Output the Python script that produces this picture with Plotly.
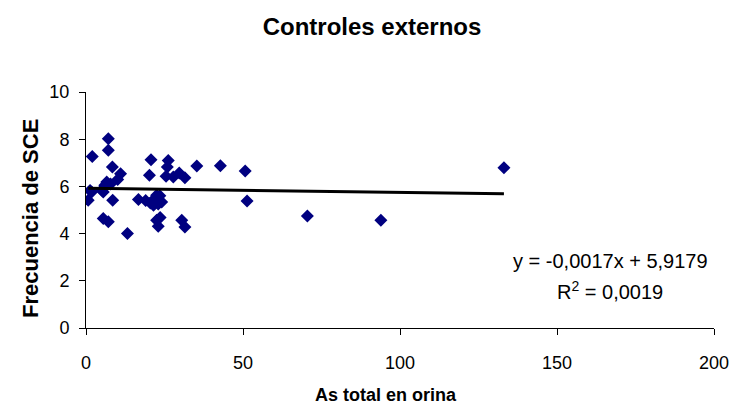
import plotly.graph_objects as go

x_vals = [0.7, 1.8, 2.0, 1.3, 5.5, 5.5, 6.0, 6.6, 7.1, 7.1, 7.1, 7.8, 8.4, 8.5, 10.1, 11.0,
          13.2, 16.7, 19.0, 20.2, 20.7, 20.5, 21.5, 22.0, 22.5, 23.0, 24.1, 22.5, 23.6, 23.0,
          25.5, 25.9, 26.2, 27.8, 29.7, 30.5, 31.5, 31.5, 35.3, 42.8, 50.7, 51.3, 70.5, 93.9,
          133.1, 23.5, 5.0]
y_vals = [5.41, 5.76, 7.27, 5.83, 5.76, 4.64, 6.05, 6.19, 8.02, 7.53, 4.50, 6.10, 6.82, 5.41, 6.29, 6.54,
          4.00, 5.45, 5.40, 6.47, 7.13, 5.30, 5.20, 5.50, 5.62, 5.25, 5.34, 4.57, 4.68, 4.31,
          6.43, 6.82, 7.10, 6.40, 6.57, 4.57, 6.37, 4.28, 6.86, 6.88, 6.65, 5.38, 4.75, 4.57,
          6.79, 5.60, 5.85]

slope = -0.0017
intercept = 5.9179
eq_text = "y = -0,0017x + 5,9179"
r2_text = "R<sup>2</sup> = 0,0019"

x_ticks = [0, 50, 100, 150, 200]
y_ticks = [0, 2, 4, 6, 8, 10]

trend_x = [min(x_vals), max(x_vals)]
trend_y = [slope * v + intercept for v in trend_x]

font_family = "Liberation Sans, Arial, sans-serif"

W, H = 734, 399
ML, MR, MT, MB = 78, 28, 84, 79
PW, PH = W - ML - MR, H - MT - MB

fig = go.Figure()
fig.add_trace(go.Scatter(
    x=x_vals, y=y_vals, mode="markers",
    marker=dict(symbol="diamond", color="#000080", size=10, line=dict(width=0)),
    showlegend=False, hoverinfo="x+y"))
fig.add_trace(go.Scatter(
    x=trend_x, y=trend_y, mode="lines",
    line=dict(color="black", width=3), showlegend=False, hoverinfo="skip"))

fig.add_annotation(x=167, y=2.84, xref="x", yref="y", text=eq_text, showarrow=False,
                   font=dict(size=20, color="black", family=font_family))
fig.add_annotation(x=167, y=1.57, xref="x", yref="y", text=r2_text, showarrow=False,
                   font=dict(size=20, color="black", family=font_family))

# axis titles
fig.add_annotation(x=(386 - 86) / PW, y=-67 / PH, xref="paper", yref="paper", xanchor="center",
                   yanchor="middle", text="<b>As total en orina</b>", showarrow=False,
                   font=dict(size=18, color="black", family=font_family))
fig.add_annotation(x=-56 / PW, y=(328 - 219) / PH, xref="paper", yref="paper", xanchor="center",
                   yanchor="middle", text="<b>Frecuencia de SCE</b>", showarrow=False,
                   textangle=-90, font=dict(size=22, color="black", family=font_family))

fig.update_layout(
    width=W, height=H,
    paper_bgcolor="white", plot_bgcolor="white",
    margin=dict(l=ML, r=MR, t=MT, b=MB),
    font=dict(family=font_family, size=18, color="black"),
    title=dict(text="<b>Controles externos</b>", x=364 / W, xanchor="center",
               xref="container",
               y=1 - 19 / H, yanchor="middle", font=dict(size=24, family=font_family)),
    xaxis=dict(range=[0, 200], tickvals=x_ticks, showgrid=False, zeroline=False,
               showline=True, linecolor="black", linewidth=1, ticks="outside", ticklen=6,
               tickcolor="black", ticklabelstandoff=12),
    yaxis=dict(range=[0, 10], tickvals=y_ticks, showgrid=False, zeroline=False,
               showline=True, linecolor="black", linewidth=1, ticks="outside", ticklen=6,
               tickcolor="black", ticklabelstandoff=6),
)

fig.write_html("out.html")
